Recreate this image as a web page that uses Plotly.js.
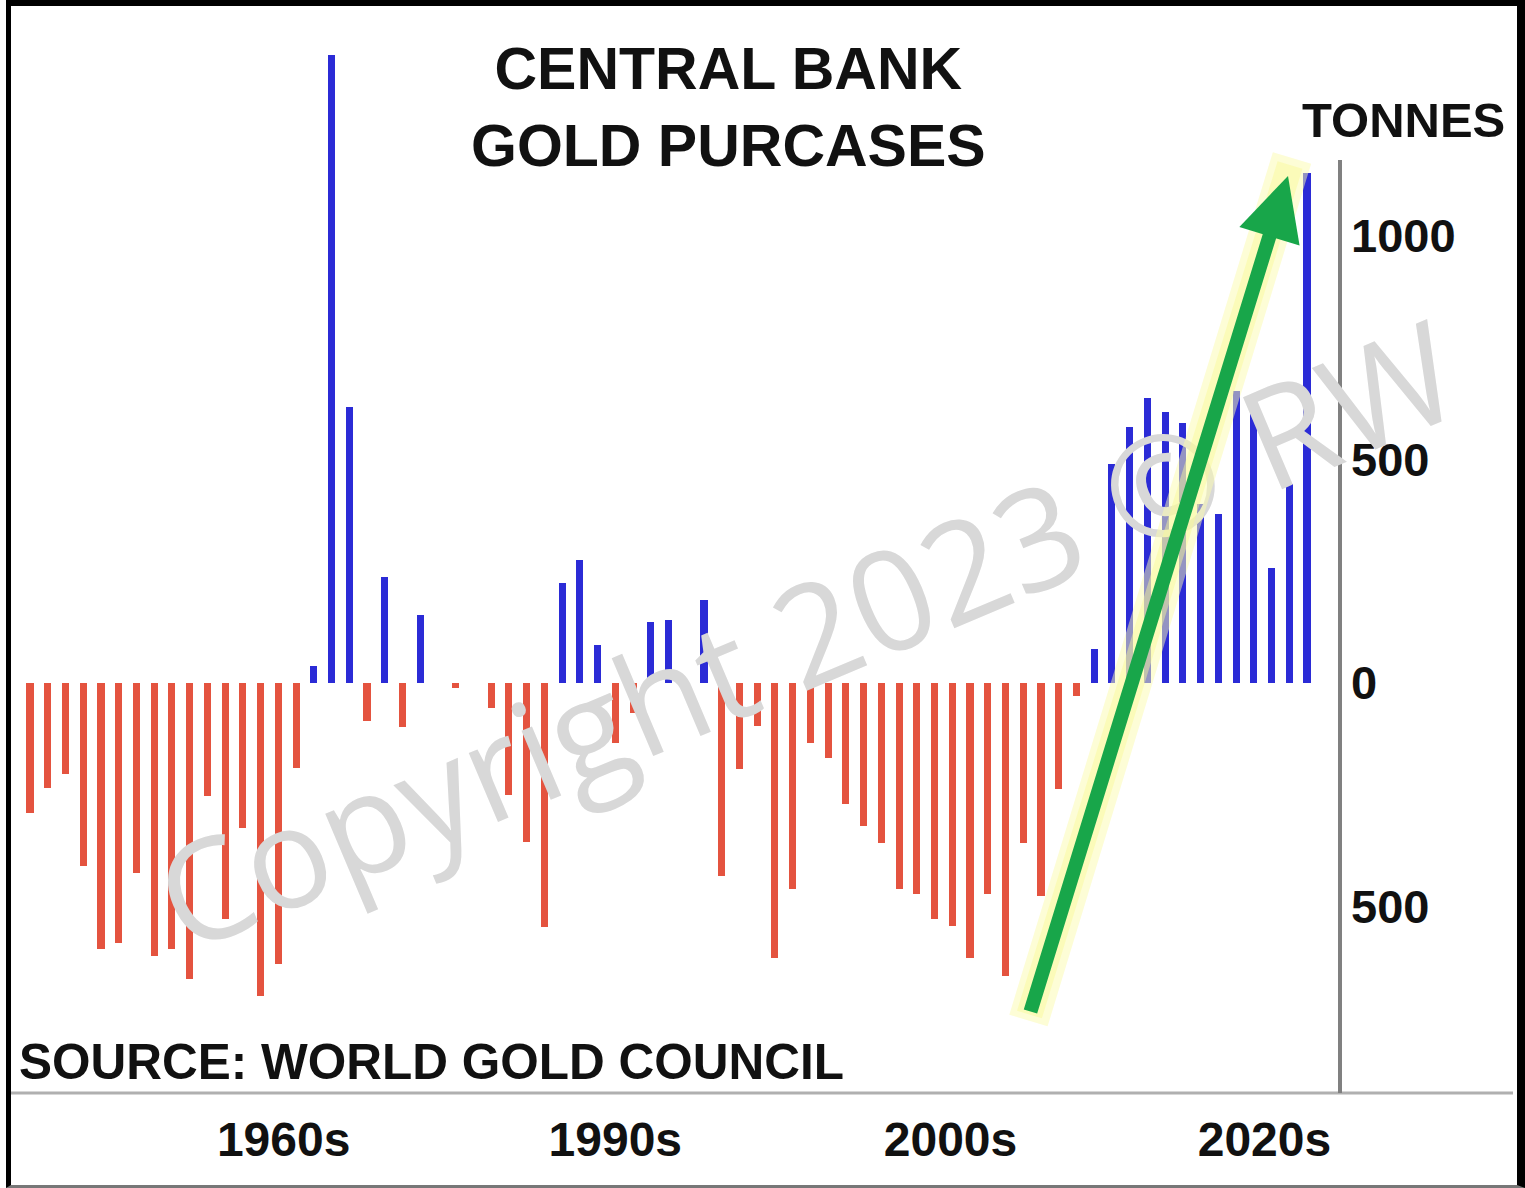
<!DOCTYPE html>
<html>
<head>
<meta charset="utf-8">
<script src="https://cdn.plot.ly/plotly-3.0.1.min.js"></script>
<style>
  html, body { margin: 0; padding: 0; background: #ffffff; }
  #wrap { position: relative; width: 1525px; height: 1188px; overflow: hidden; background: #fff; }
  #chart { position: absolute; left: 0; top: 0; width: 1525px; height: 1188px; }
  #frame { position: absolute; left: 6px; top: 0; width: 1519px; height: 1188px; box-sizing: border-box;
           border-top: 6px solid #000; border-left: 5px solid #000; border-right: 8px solid #000;
           border-bottom: 3px solid #777; pointer-events: none; }
</style>
</head>
<body>
<div id="wrap">
  <div id="chart"></div>
  <div id="frame"></div>
</div>
<script>
// ---- data (tonnes, net central bank purchases per year) ----
const years = [];
for (let y = 1950; y <= 2022; y++) years.push(y);

const tonnes = [
  -291, -235, -204, -409, -595, -582, -425, -611, -595, -662,   // 1950-1959
  -253, -528, -324, -700, -629, -190,   38, 1405,  617,  -85,   // 1960-1969
   237,  -98,  152,    0,  -11,    0,  -56, -251, -356, -546,   // 1970-1979
   224,  275,   85, -134,  -67,  136,  141,  -13,  186, -432,   // 1980-1989
  -192,  -96, -615, -461, -134, -168, -271, -320, -358, -461,   // 1990-1999
  -472, -528, -544, -615, -472, -655, -358, -477, -237,  -29,   // 2000-2009
    76,  490,  573,  638,  606,  582,  400,  378,  653,  602,   // 2010-2019
   257,  445, 1140                                              // 2020-2022
];

const xTickVals = [1964.3, 1983.0, 2001.9, 2019.6];
const xTickText = ["1960s", "1990s", "2000s", "2020s"];
const yTickVals = [1000, 500, 0, -500];
const yTickText = ["1000", "500", "0", "500"];

const titleText = "CENTRAL BANK<br>GOLD PURCASES";
const unitText = "TONNES";
const sourceText = "SOURCE: WORLD GOLD COUNCIL";
const watermarkText = "Copyright 2023 © RW";

// ---- styles ----
const BLUE = "#2b2bd6";
const RED = "#e4533f";
const FONT = "'Liberation Sans', Arial, Helvetica, sans-serif";

const barColors = tonnes.map(v => v >= 0 ? BLUE : RED);

const trace = {
  type: "bar",
  x: years,
  y: tonnes,
  width: 0.4,
  marker: { color: barColors, line: { width: 0 } },
  hoverinfo: "x+y"
};

// plot area: x 10..1340, y 5..1093 (pixels)
const px = v => (v - 10) / 1330;
const py = v => 1 - (v - 5) / 1088;

const layout = {
  width: 1525,
  height: 1188,
  margin: { l: 10, r: 185, t: 5, b: 95, pad: 0 },
  paper_bgcolor: "#ffffff",
  plot_bgcolor: "#ffffff",
  showlegend: false,
  bargap: 0,
  xaxis: {
    range: [1948.87, 2023.86],
    tickmode: "array",
    tickvals: xTickVals,
    ticktext: xTickText,
    showgrid: false, zeroline: false, showline: false,
    ticks: "",
    ticklabelstandoff: 14,
    tickfont: { family: FONT, size: 48, color: "#111", weight: "bold" },
    fixedrange: true
  },
  yaxis: {
    range: [-917.2, 1516.8],
    side: "right",
    tickmode: "array",
    tickvals: yTickVals,
    ticktext: yTickText,
    showgrid: false, zeroline: false, showline: false,
    ticks: "",
    ticklabelstandoff: 10,
    tickfont: { family: FONT, size: 47, color: "#111", weight: "bold" },
    fixedrange: true
  },
  shapes: [
    { type: "line", xref: "paper", yref: "paper", x0: px(8), x1: px(1513), y0: 0, y1: 0,
      line: { color: "#b0b0b0", width: 3 } },
    { type: "line", xref: "paper", yref: "paper", x0: 1, x1: 1, y0: 0, y1: py(160),
      line: { color: "#808080", width: 4 } }
  ],
  annotations: [
    // title
    { xref: "paper", yref: "paper", x: px(728), y: py(107),
      xanchor: "center", yanchor: "middle", showarrow: false, align: "center",
      text: titleText, font: { family: FONT, size: 59, color: "#111", weight: "bold" } },
    { xref: "paper", yref: "paper", x: px(1403), y: py(120),
      xanchor: "center", yanchor: "middle", showarrow: false,
      text: unitText, font: { family: FONT, size: 49, color: "#111", weight: "bold" } },
    { xref: "paper", yref: "paper", x: px(17), y: py(1061),
      xanchor: "left", yanchor: "middle", showarrow: false,
      text: sourceText, font: { family: FONT, size: 49.5, color: "#111", weight: "bold" } },
    // watermark
    { xref: "paper", yref: "paper", x: px(805), y: py(632),
      xanchor: "center", yanchor: "middle", showarrow: false, textangle: -23,
      text: watermarkText, font: { family: "'Open Sans', sans-serif", size: 140, color: "#d8d8d8" } },
    // arrow glow
    { xref: "paper", yref: "paper", x: px(1292), y: py(158),
      ax: 1028 - 1292, ay: 1022 - 158, axref: "pixel", ayref: "pixel",
      text: "", showarrow: true, arrowhead: 0, arrowwidth: 40, arrowcolor: "rgba(252,252,175,0.5)" },
    { xref: "paper", yref: "paper", x: px(1290), y: py(165),
      ax: 1029 - 1290, ay: 1016 - 165, axref: "pixel", ayref: "pixel",
      text: "", showarrow: true, arrowhead: 0, arrowwidth: 26, arrowcolor: "rgba(250,250,150,0.45)" },
    // green arrow
    { xref: "paper", yref: "paper", x: px(1288), y: py(176),
      ax: 1030 - 1288, ay: 1013 - 176, axref: "pixel", ayref: "pixel",
      text: "", showarrow: true, arrowhead: 2, arrowsize: 0.9, arrowwidth: 14, arrowcolor: "#18a64a" }
  ]
};

Plotly.newPlot("chart", [trace], layout, { displayModeBar: false, staticPlot: true });
</script>
</body>
</html>
